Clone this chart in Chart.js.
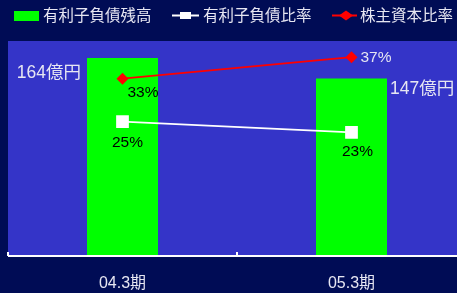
<!DOCTYPE html>
<html>
<head>
<meta charset="utf-8">
<script src="https://cdn.jsdelivr.net/npm/chart.js@4.4.1/dist/chart.umd.min.js"></script>
<style>
  html, body { margin: 0; padding: 0; background: #000c55; }
  #clip { width: 457px; height: 293px; overflow: hidden; position: relative; }
  #wrap { position: absolute; left: 0; top: 0; width: 466px; height: 293px; }
  canvas { display: block; }
</style>
</head>
<body>
<div id="clip"><div id="wrap"><canvas id="chartMix" width="466" height="293"></canvas></div></div>
<script>
// Values
const periods = ['04.3期', '05.3期'];
const debtBalance = [164, 147];      // 億円
const debtRatio = [25, 23];          // %
const equityRatio = [33, 37];        // %
const seriesNames = ['有利子負債残高', '有利子負債比率', '株主資本比率'];

const FONT = "'Liberation Sans', Arial, 'Noto Sans CJK JP', sans-serif";
const TEXT = '#e6e6f2';

// Plot background + axis line with inward ticks
const plotFrame = {
    id: 'plotFrame',
    beforeDatasetsDraw(chart) {
        const a = chart.chartArea, c = chart.ctx;
        c.save();
        c.fillStyle = '#3434c8';
        c.fillRect(a.left, a.top, a.right - a.left, a.bottom - a.top);
        c.restore();
    },
    afterDatasetsDraw(chart) {
        const a = chart.chartArea, c = chart.ctx, x = chart.scales.x;
        const step = x.getPixelForValue(1) - x.getPixelForValue(0);
        c.save();
        c.strokeStyle = '#ffffff';
        c.lineWidth = 2;
        c.beginPath();
        c.moveTo(a.left, a.bottom);
        c.lineTo(a.right, a.bottom);
        for (let i = 0; i <= periods.length; i++) {
            const px = Math.round(x.getPixelForValue(0) - step / 2 + i * step);
            c.moveTo(px, a.bottom);
            c.lineTo(px, a.bottom - 4);
        }
        c.stroke();
        c.restore();
    }
};

// Legend drawn along the top
const topLegend = {
    id: 'topLegend',
    afterDraw(chart) {
        const c = chart.ctx, ds = chart.data.datasets;
        const y = 15.5;
        c.save();
        c.font = '15.5px ' + FONT;
        c.textBaseline = 'middle';

        c.fillStyle = '#00ff00';
        c.fillRect(14, 11, 25, 10);
        c.fillStyle = TEXT;
        c.fillText(ds[0].label, 43, y + 1);

        c.strokeStyle = '#ffffff';
        c.lineWidth = 2;
        c.beginPath(); c.moveTo(172, y); c.lineTo(199, y); c.stroke();
        c.fillStyle = '#ffffff';
        c.fillRect(180, 12, 11, 7);
        c.fillStyle = TEXT;
        c.fillText(ds[1].label, 203, y + 1);

        c.strokeStyle = '#ff0000';
        c.beginPath(); c.moveTo(332, y); c.lineTo(357, y); c.stroke();
        c.fillStyle = '#ff0000';
        c.beginPath();
        c.moveTo(346, y - 5); c.lineTo(353, y); c.lineTo(346, y + 5); c.lineTo(339, y);
        c.closePath(); c.fill();
        c.fillStyle = TEXT;
        c.fillText(ds[2].label, 360, y + 1);
        c.restore();
    }
};

// Value labels next to bars and points
const valueLabels = {
    id: 'valueLabels',
    afterDraw(chart) {
        const c = chart.ctx;
        c.save();
        c.textBaseline = 'middle';

        const bars = chart.getDatasetMeta(0).data;
        c.font = '17.5px ' + FONT;
        c.fillStyle = TEXT;
        c.textAlign = 'right';
        c.fillText(debtBalance[0] + '億円', bars[0].x - bars[0].width / 2 - 6, bars[0].y + 15);
        c.textAlign = 'left';
        c.fillText(debtBalance[1] + '億円', bars[1].x + bars[1].width / 2 + 3, bars[1].y + 11);

        c.font = '15.5px ' + FONT;
        const dr = chart.getDatasetMeta(1).data;
        const er = chart.getDatasetMeta(2).data;
        c.fillStyle = '#000000';
        c.textAlign = 'center';
        c.fillText(debtRatio[0] + '%', dr[0].x + 5, dr[0].y + 21);
        c.fillText(debtRatio[1] + '%', dr[1].x + 6, dr[1].y + 19);
        c.textAlign = 'left';
        c.fillText(equityRatio[0] + '%', er[0].x + 5, er[0].y + 14);
        c.fillStyle = TEXT;
        c.fillText(equityRatio[1] + '%', er[1].x + 9, er[1].y + 1);
        c.restore();
    }
};

new Chart(document.getElementById('chartMix'), {
    data: {
        labels: periods,
        datasets: [
            {
                type: 'bar',
                label: seriesNames[0],
                data: debtBalance,
                backgroundColor: '#00ff00',
                borderWidth: 0,
                barPercentage: 0.31,
                categoryPercentage: 1,
                yAxisID: 'y',
                order: 3
            },
            {
                type: 'line',
                label: seriesNames[1],
                data: debtRatio,
                borderColor: '#ffffff',
                borderWidth: 2,
                backgroundColor: '#ffffff',
                pointStyle: 'rect',
                pointRadius: 9,
                pointBorderWidth: 0,
                yAxisID: 'y2',
                order: 2
            },
            {
                type: 'line',
                label: seriesNames[2],
                data: equityRatio,
                borderColor: '#ff0000',
                borderWidth: 2,
                backgroundColor: '#ff0000',
                pointStyle: 'rectRot',
                pointRadius: 6,
                pointBorderWidth: 0,
                yAxisID: 'y2',
                order: 1
            }
        ]
    },
    options: {
        responsive: false,
        animation: false,
        // autoPadding off so point radius does not shrink the plot
        layout: { autoPadding: false, padding: { top: 41, left: 8, right: 0, bottom: 0 } },
        plugins: {
            legend: { display: false },
            tooltip: { enabled: false }
        },
        scales: {
            x: {
                offset: true,
                grid: { display: false },
                border: { display: false },
                ticks: {
                    color: TEXT,
                    font: { family: FONT, size: 16 },
                    padding: 10
                },
                afterFit: function(scale) { scale.height = 37; }
            },
            y: { display: false, min: 0, max: 178 },
            y2: { display: false, min: 0, max: 40, position: 'right' }
        }
    },
    plugins: [plotFrame, topLegend, valueLabels]
});
</script>
</body>
</html>
